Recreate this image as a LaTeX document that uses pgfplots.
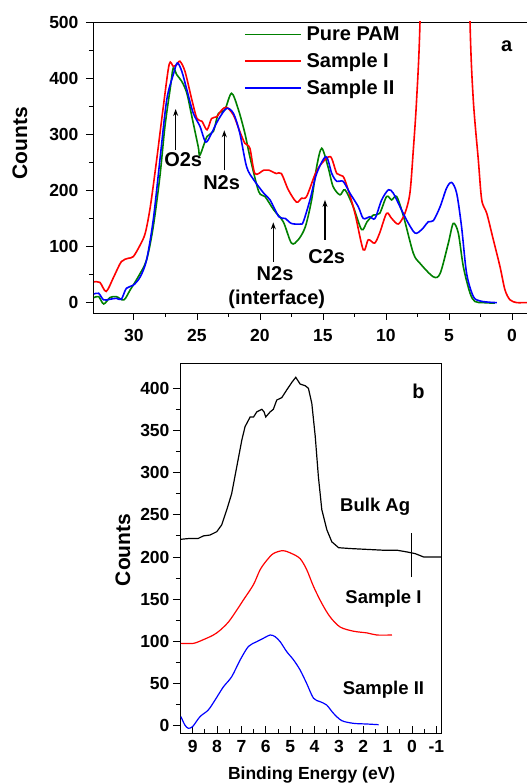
\documentclass[border=0pt]{standalone}
\usepackage{pgfplots}
\pgfplotsset{compat=1.18}
\usepackage{fontspec}
\setmainfont{Liberation Sans}
\usetikzlibrary{arrows.meta}

\definecolor{pamgreen}{RGB}{0,128,0}
\definecolor{sired}{RGB}{255,0,0}
\definecolor{siiblue}{RGB}{0,0,255}

\newcommand{\tickfont}{\fontsize{17.5}{20}\selectfont\bfseries}
\newcommand{\labfont}{\fontsize{21}{24}\selectfont\bfseries}
\newcommand{\notefont}{\fontsize{20}{22}\selectfont\bfseries}
\newcommand{\curvefont}{\fontsize{18.5}{21}\selectfont\bfseries}

\pgfplotsset{
  spectrum/.style={
    scale only axis,
    x dir=reverse,
    axis line style={line width=0.9pt},
    tick style={line width=0.9pt, black},
    major tick length=7pt,
    minor tick length=4pt,
    tick label style={font=\tickfont},
    /pgf/number format/assume math mode=true,
    tick pos=left,
    clip=true,
  },
}

\begin{document}
\begin{tikzpicture}
\useasboundingbox (0,0) rectangle (527pt,784pt);

% ---------------- (a) valence band spectra ----------------
\begin{axis}[
  spectrum,
  at={(93pt,471pt)}, anchor=south west,
  width=437pt, height=291pt,
  xmin=-1.43, xmax=33.25,
  ymin=-18.5, ymax=500,
  xtick={0,5,...,30}, minor x tick num=1,
  ytick={0,100,...,500}, minor y tick num=1,
  tick align=outside,
  xticklabel style={yshift=-6pt},
  yticklabel style={xshift=-4pt},
  ylabel={Counts},
  ylabel style={font=\labfont, at={(axis description cs:-0.167,0.584)}, anchor=center},
  legend style={at={(axis description cs:0.345,0.991)}, anchor=north west,
    draw=none, fill=none, font=\notefont, row sep=7pt, inner sep=0pt},
  legend cell align=left,
  legend image code/.code={\draw[#1] (0pt,0pt) -- (56pt,0pt); \path (59pt,0pt);},
]
\addplot[pamgreen, line width=1.6pt, smooth, tension=0.5] coordinates {
(33.17,8.9) (32.8,10.7) (32.4,-2.4) (31.9,9) (31.4,10.7) (30.8,4.8) (30.3,22.6)
(29.66,46) (29.0,76) (28.47,135) (27.94,225) (27.54,314) (27.1,385) (26.88,418)
(26.6,406) (26.2,394) (25.8,373) (25.4,331) (24.9,278) (24.76,263) (24.2,296)
(23.7,305) (23.3,337) (22.8,343) (22.25,373) (21.7,343) (21.2,302) (20.8,260)
(20.1,198) (19.6,189) (18.9,165) (18.15,144) (17.5,106) (16.96,112) (16.4,135)
(15.9,183) (15.5,242) (15.1,275) (14.6,242) (14.2,207) (13.65,192) (13.25,201)
(12.6,171) (11.93,130) (11.5,144) (11.0,156) (10.5,159) (9.95,189) (9.55,183)
(9.15,189) (8.6,153) (7.83,88) (7.3,70) (6.24,46) (5.7,52) (5.05,106) (4.66,141)
(4.26,124) (3.86,64) (3.33,17) (2.94,2) (2.3,0) (1.35,-1)
};
\addlegendentry{Pure PAM}
\addplot[sired, line width=1.6pt, smooth, tension=0.5] coordinates {
(33.17,37) (32.7,36) (32.2,20) (31.6,46) (31.0,73) (30.45,79) (30.05,82) (29.5,103)
(29.1,124) (28.7,171) (28.2,254) (27.67,349) (27.2,425) (26.88,421) (26.6,424)
(26.35,430) (25.95,412) (25.4,361) (25.0,328) (24.6,323) (24.2,308) (23.84,328)
(23.44,331) (23.04,343) (22.65,348) (22.1,334) (21.6,305) (21.2,284) (20.8,275)
(20.4,230) (19.7,236) (19.3,236) (18.7,230) (18.3,230) (17.75,201) (17.1,179)
(16.7,186) (16.3,189) (15.6,230) (15.1,248) (14.4,260) (13.9,230) (13.4,225)
(13.0,201) (12.46,159) (11.8,94) (11.4,112) (10.9,106) (10.5,124) (9.95,159)
(9.55,150) (9.02,140) (8.5,159) (8.1,195) (7.83,272) (7.57,361) (7.3,500)
(7.0,850) (6.5,1400) (5.8,1850) (5.2,2000) (4.6,1850) (4.0,1300) (3.6,850)
(3.33,500) (3.07,361) (2.67,254) (2.4,183) (2.0,159) (1.48,112) (0.95,64)
(0.56,23) (0.16,5) (-0.37,0) (-0.85,0) (-1.5,0)
};
\addlegendentry{Sample I}
\addplot[siiblue, line width=1.6pt, smooth, tension=0.5] coordinates {
(33.17,15.4) (32.8,16.6) (32.4,4.8) (31.9,6) (31.4,7.7) (31.0,6) (30.6,25.5)
(30.05,31) (29.5,46) (29.0,76) (28.47,147) (27.94,254) (27.4,361) (26.88,406)
(26.56,427) (26.2,412) (25.8,379) (25.3,338) (24.76,314) (24.3,286) (23.84,302)
(23.3,326) (22.65,346) (22.1,337) (21.6,302) (21.06,242) (20.5,219) (19.7,195)
(19.2,183) (18.5,153) (18.0,150) (17.5,141) (16.8,140) (16.56,144) (16.03,183)
(15.5,230) (14.76,260) (14.3,230) (13.9,216) (13.4,216) (12.86,195) (12.2,171)
(11.8,150) (11.27,153) (10.87,150) (10.34,183) (9.8,201) (9.42,195) (8.89,171)
(8.36,147) (7.7,124) (7.17,130) (6.64,144) (6.24,146) (5.7,171) (5.19,204)
(4.79,214) (4.39,195) (4.0,135) (3.6,52) (3.07,11) (2.54,3) (1.75,0.6) (1.2,0)
};
\addlegendentry{Sample II}

\draw[-{Stealth[length=7pt,width=5pt]}, line width=1.2pt] (axis cs:26.69,272) -- (axis cs:26.69,345);
\node[font=\notefont] at (axis cs:26.09,254) {O2s};
\draw[-{Stealth[length=7pt,width=5pt]}, line width=1.2pt] (axis cs:22.83,236) -- (axis cs:22.83,307);
\node[font=\notefont] at (axis cs:23.04,214) {N2s};
\draw[-{Stealth[length=7pt,width=5pt]}, line width=1.2pt] (axis cs:18.94,73) -- (axis cs:18.94,143);
\node[font=\notefont] at (axis cs:18.8,51) {N2s};
\node[font=\notefont] at (axis cs:18.67,5) {(interface)};
\draw[-{Stealth[length=7pt,width=5pt]}, line width=1.2pt] (axis cs:14.84,112) -- (axis cs:14.84,183);
\node[font=\notefont] at (axis cs:14.7,82) {C2s};
\node[font=\notefont] at (axis cs:0.42,456) {a};
\end{axis}

% ---------------- (b) Ag 4d region ----------------
\begin{axis}[
  spectrum,
  at={(180pt,51pt)}, anchor=south west,
  width=261.7pt, height=369.7pt,
  xmin=-1.22, xmax=9.52,
  ymin=-8.65, ymax=429.6,
  xtick={-1,0,...,9}, minor x tick num=1,
  ytick={0,50,...,400}, minor y tick num=1,
  xtick align=inside, ytick align=outside,
  xticklabel style={yshift=-4pt},
  xlabel={Binding Energy (eV)},
  xlabel style={font=\fontsize{17.5}{20}\selectfont\bfseries, at={(axis description cs:0.503,-0.1136)}, anchor=center},
  ylabel={Counts},
  ylabel style={font=\labfont, at={(axis description cs:-0.218,0.495)}, anchor=center},
]
\addplot[black, line width=1.2pt] coordinates {
(9.48,221) (9.11,222) (8.77,222) (8.56,225) (8.29,226) (8.01,230) (7.81,238)
(7.6,256) (7.4,275) (7.19,307) (6.98,339) (6.85,354.5) (6.64,366) (6.5,366)
(6.37,372) (6.16,375) (6.07,372) (6.0,366) (5.82,372) (5.69,375) (5.55,386)
(5.34,389) (5.14,398) (4.93,407) (4.77,413) (4.59,405) (4.38,403) (4.25,400)
(4.11,382) (3.97,343) (3.84,295) (3.7,256) (3.49,232) (3.29,218) (3.01,211)
(2.53,210) (1.85,209) (1.16,208) (0.61,208) (0.21,206) (-0.13,204) (-0.48,200)
(-0.89,200) (-1.22,200)
};
\addplot[sired, line width=1.2pt, smooth] coordinates {
(9.48,97.6) (8.97,97.6) (8.56,102) (8.15,107.5) (7.88,113) (7.53,123) (7.19,137)
(6.92,149) (6.51,167) (6.23,185) (5.96,196) (5.69,204) (5.3,207.5) (4.93,204)
(4.59,198) (4.32,185) (4.04,165) (3.7,145) (3.36,129) (2.95,117) (2.4,112)
(1.85,110) (1.44,107.5) (0.82,107.5)
};
\addplot[siiblue, line width=1.2pt, smooth] coordinates {
(9.48,10.7) (9.32,0.8) (9.18,-3) (9.0,-1) (8.7,10.7) (8.36,18.6) (8.08,30.5)
(7.74,46) (7.4,58) (7.05,78) (6.71,94) (6.37,99.6) (6.1,103.6) (5.82,107.5)
(5.62,105.6) (5.41,99.6) (5.14,87.8) (4.86,78) (4.59,66) (4.32,50) (4.04,32.5)
(3.77,28.5) (3.5,24.5) (3.22,14.6) (2.88,6) (2.4,2.8) (1.85,2) (1.37,1.2)
};
\draw[black, line width=1pt] (axis cs:0,176) -- (axis cs:0,228.5);
\node[font=\curvefont] at (axis cs:1.51,260) {Bulk Ag};
\node[font=\curvefont] at (axis cs:1.17,151) {Sample I};
\node[font=\curvefont] at (axis cs:1.17,42.3) {Sample II};
\node[font=\notefont] at (axis cs:-0.27,396) {b};
\end{axis}
\end{tikzpicture}
\end{document}
